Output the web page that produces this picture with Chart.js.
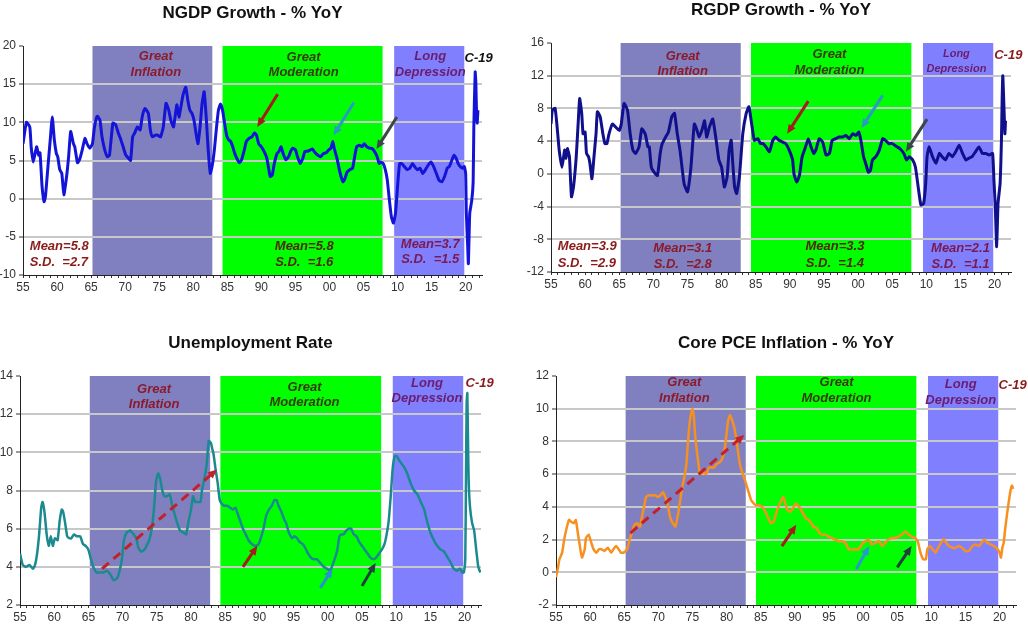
<!DOCTYPE html>
<html lang="en">
<head>
<meta charset="UTF-8">
<title>Great Inflation, Great Moderation, Long Depression</title>
<script src="https://cdn.jsdelivr.net/npm/chart.js"></script>
<style>
  body { margin: 0; background: #fff; overflow: hidden; }
  .panel { position: absolute; }
</style>
</head>
<body>
<div class="panel" style="left:0;top:0;width:514px;height:300px"><canvas id="ngdp"></canvas></div>
<div class="panel" style="left:514px;top:0;width:514px;height:300px"><canvas id="rgdp"></canvas></div>
<div class="panel" style="left:0;top:313px;width:514px;height:313px"><canvas id="unrate"></canvas></div>
<div class="panel" style="left:514px;top:313px;width:514px;height:313px"><canvas id="pce"></canvas></div>

<script>
// eras shared by all four panels (years)
const eraStart = [1965.2, 1984.3, 2009.5];
const eraEnd = [1982.8, 2007.8, 2019.8];
const eraNames = [['Great', 'Inflation'], ['Great', 'Moderation'], ['Long', 'Depression']];

// NGDP growth, % yoy
const ngdpYears = [
  1955.0, 1955.5, 1956.0, 1956.2, 1956.5, 1957.0, 1957.3, 1957.5, 1957.8, 1958.1,
  1958.3, 1958.7, 1959.0, 1959.3, 1959.6, 1959.9, 1960.1, 1960.4, 1960.7, 1961.0,
  1961.4, 1961.7, 1962.0, 1962.4, 1962.6, 1963.0, 1963.3, 1963.7, 1964.1, 1964.4,
  1964.8, 1965.2, 1965.5, 1965.9, 1966.3, 1966.6, 1967.0, 1967.4, 1967.7, 1968.2,
  1968.6, 1969.0, 1969.3, 1969.7, 1970.1, 1970.5, 1970.8, 1971.1, 1971.4, 1971.8,
  1972.2, 1972.5, 1972.9, 1973.4, 1973.7, 1974.0, 1974.4, 1974.8, 1975.2, 1975.6,
  1976.0, 1976.4, 1976.7, 1977.1, 1977.4, 1977.6, 1977.9, 1978.2, 1978.5, 1978.9,
  1979.2, 1979.5, 1979.8, 1980.1, 1980.4, 1980.7, 1981.0, 1981.3, 1981.6, 1981.9,
  1982.1, 1982.3, 1982.5, 1982.8, 1983.1, 1983.4, 1983.7, 1984.0, 1984.3, 1984.6,
  1984.9, 1985.2, 1985.5, 1985.8, 1986.1, 1986.5, 1986.8, 1987.1, 1987.5, 1987.8,
  1988.2, 1988.6, 1989.0, 1989.3, 1989.6, 1990.0, 1990.4, 1990.8, 1991.1, 1991.3,
  1991.6, 1991.9, 1992.3, 1992.6, 1992.9, 1993.2, 1993.6, 1994.0, 1994.3, 1994.6,
  1995.0, 1995.3, 1995.7, 1996.1, 1996.4, 1996.8, 1997.2, 1997.5, 1997.9, 1998.3,
  1998.7, 1999.1, 1999.5, 1999.9, 2000.2, 2000.5, 2000.7, 2001.1, 2001.4, 2001.7,
  2002.0, 2002.3, 2002.6, 2003.0, 2003.4, 2003.7, 2004.0, 2004.4, 2004.8, 2005.1,
  2005.5, 2005.9, 2006.2, 2006.6, 2007.0, 2007.3, 2007.5, 2007.9, 2008.2, 2008.5,
  2008.8, 2009.1, 2009.4, 2009.7, 2010.0, 2010.3, 2010.6, 2011.0, 2011.4, 2011.8,
  2012.2, 2012.5, 2012.9, 2013.3, 2013.7, 2014.1, 2014.5, 2014.9, 2015.3, 2015.7,
  2016.1, 2016.5, 2016.9, 2017.3, 2017.6, 2018.0, 2018.3, 2018.6, 2018.9, 2019.2,
  2019.5, 2019.8, 2020.0, 2020.1, 2020.3, 2020.4, 2020.6, 2020.9, 2021.1, 2021.2,
  2021.4, 2021.5, 2021.6, 2021.7, 2021.8
];
const ngdpValues = [
  7.2, 10.0, 9.4, 6.8, 4.8, 6.8, 5.7, 6.0, 1.6, -0.4,
  0.3, 4.6, 7.7, 10.7, 7.7, 5.9, 5.5, 3.8, 3.3, 0.5,
  2.9, 5.5, 8.8, 7.2, 6.8, 4.7, 5.1, 6.4, 7.9, 7.2,
  6.6, 7.2, 9.4, 10.8, 10.3, 8.1, 6.4, 5.5, 5.7, 9.9,
  9.7, 8.6, 7.9, 6.8, 5.7, 5.3, 5.0, 8.1, 8.6, 9.4,
  9.0, 10.7, 11.8, 11.2, 9.0, 8.1, 8.3, 8.3, 8.1, 9.4,
  12.5, 11.6, 10.3, 9.4, 11.2, 12.3, 10.7, 12.1, 13.6, 14.6,
  12.9, 11.6, 11.2, 10.3, 8.6, 7.2, 9.4, 12.5, 14.0, 10.7,
  7.7, 5.1, 3.3, 4.4, 6.4, 9.2, 11.6, 12.4, 11.6, 9.9,
  8.3, 7.7, 7.5, 6.8, 5.9, 5.1, 4.7, 5.1, 6.4, 7.5,
  7.9, 8.1, 8.6, 8.3, 7.2, 6.8, 6.2, 5.3, 3.8, 2.9,
  3.1, 4.6, 5.9, 6.2, 6.8, 5.9, 5.1, 5.5, 6.2, 6.6,
  6.4, 5.5, 4.6, 5.3, 6.2, 6.2, 6.4, 6.5, 6.0, 5.7,
  5.5, 5.9, 6.0, 6.4, 6.6, 7.5, 6.6, 5.3, 4.0, 2.9,
  2.2, 2.7, 3.5, 3.8, 4.0, 5.5, 6.8, 7.0, 6.8, 7.2,
  6.8, 6.6, 6.6, 6.2, 5.5, 4.6, 4.8, 4.6, 3.8, 2.4,
  -0.2, -2.4, -3.2, -1.9, 1.6, 4.6, 4.6, 4.2, 3.8, 4.0,
  4.6, 4.2, 3.8, 4.0, 3.3, 3.8, 4.4, 4.8, 4.2, 3.3,
  2.4, 2.2, 2.9, 4.0, 4.2, 5.1, 5.7, 5.3, 4.6, 4.2,
  4.0, 4.2, 3.3, -1.9, -6.3, -8.5, -1.9, -0.2, 2.2, 9.4,
  16.6, 15.1, 11.2, 9.9, 11.6
];

// RGDP growth, % yoy
const rgdpYears = [
  1955.0, 1955.2, 1955.6, 1955.9, 1956.2, 1956.6, 1957.0, 1957.2, 1957.4, 1957.7,
  1958.0, 1958.3, 1958.7, 1959.0, 1959.2, 1959.5, 1959.7, 1960.0, 1960.2, 1960.5,
  1960.7, 1961.0, 1961.3, 1961.6, 1961.8, 1962.2, 1962.6, 1962.9, 1963.2, 1963.5,
  1964.0, 1964.5, 1965.0, 1965.3, 1965.7, 1966.2, 1966.6, 1967.0, 1967.4, 1967.9,
  1968.3, 1968.8, 1969.2, 1969.4, 1969.7, 1970.1, 1970.6, 1971.0, 1971.3, 1971.8,
  1972.2, 1972.7, 1973.1, 1973.5, 1973.9, 1974.5, 1975.0, 1975.5, 1976.0, 1976.4,
  1976.7, 1977.1, 1977.5, 1977.8, 1978.2, 1978.7, 1979.2, 1979.6, 1980.0, 1980.4,
  1980.8, 1981.1, 1981.4, 1981.6, 1981.9, 1982.2, 1982.6, 1983.1, 1983.6, 1984.0,
  1984.4, 1984.8, 1985.3, 1985.7, 1986.1, 1986.5, 1987.0, 1987.5, 1987.9, 1988.4,
  1988.9, 1989.4, 1989.9, 1990.4, 1990.6, 1991.0, 1991.4, 1991.8, 1992.3, 1992.7,
  1993.1, 1993.5, 1993.8, 1994.3, 1994.8, 1995.3, 1995.8, 1996.2, 1996.7, 1997.2,
  1997.7, 1998.2, 1998.7, 1999.2, 1999.7, 2000.1, 2000.4, 2000.8, 2001.1, 2001.5,
  2001.8, 2002.1, 2002.6, 2003.1, 2003.6, 2004.0, 2004.5, 2005.0, 2005.7, 2006.1,
  2006.7, 2007.1, 2007.5, 2008.0, 2008.4, 2008.8, 2009.2, 2009.6, 2009.9, 2010.1,
  2010.4, 2010.9, 2011.4, 2011.9, 2012.3, 2012.8, 2013.3, 2013.8, 2014.3, 2014.8,
  2015.3, 2015.8, 2016.2, 2016.7, 2017.2, 2017.7, 2018.2, 2018.7, 2019.2, 2019.7,
  2019.9, 2020.1, 2020.3, 2020.5, 2020.8, 2021.0, 2021.1, 2021.2, 2021.4, 2021.5,
  2021.6
];
const rgdpValues = [
  6.1, 7.8, 8.0, 5.7, 2.9, 0.8, 2.9, 1.9, 3.1, 2.1,
  -2.8, -1.6, 2.1, 6.5, 9.2, 7.4, 4.9, 5.1, 2.5, 2.1,
  1.3, -0.6, 2.1, 4.9, 7.6, 7.0, 4.9, 3.7, 3.7, 4.9,
  6.1, 5.7, 5.3, 6.1, 8.6, 7.8, 4.9, 2.9, 2.5, 3.3,
  5.5, 4.9, 3.3, 3.3, 0.8, 0.2, -0.2, 2.5, 3.7, 4.5,
  5.1, 7.0, 7.4, 4.9, 2.9, -1.2, -2.2, 0.8, 6.1, 5.3,
  4.5, 5.3, 6.5, 4.5, 5.7, 6.7, 4.1, 1.7, 0.8, -1.6,
  -0.4, 2.9, 4.1, 1.7, -1.6, -2.4, -0.4, 4.9, 7.4, 8.2,
  6.1, 4.1, 4.3, 3.7, 3.7, 3.3, 2.7, 4.1, 4.5, 4.1,
  3.9, 3.7, 2.9, 1.7, 0.0, -1.0, -0.2, 2.1, 3.3, 4.3,
  3.3, 2.5, 2.9, 4.3, 3.9, 2.3, 2.5, 4.1, 4.3, 4.5,
  4.5, 4.7, 4.3, 4.9, 4.7, 5.1, 4.1, 2.1, 1.3, 0.2,
  0.4, 1.7, 2.1, 2.9, 4.3, 4.1, 3.7, 3.7, 3.3, 3.1,
  2.5, 1.7, 2.1, 1.7, 0.8, -1.6, -3.8, -3.6, -1.2, 2.1,
  3.3, 2.1, 1.3, 2.5, 2.1, 1.7, 2.5, 2.1, 2.7, 3.5,
  2.5, 1.7, 1.9, 2.1, 2.7, 3.3, 2.5, 2.5, 2.3, 2.5,
  -0.8, -4.0, -8.9, -3.6, -1.2, 4.1, 9.0, 12.0, 7.4, 4.9,
  6.5
];

// unemployment rate, %
const unrateYears = [
  1955.0, 1955.4, 1955.9, 1956.4, 1956.9, 1957.2, 1957.5, 1957.8, 1958.1, 1958.3,
  1958.6, 1958.9, 1959.2, 1959.5, 1959.8, 1960.1, 1960.5, 1960.8, 1961.1, 1961.3,
  1961.6, 1961.9, 1962.2, 1962.5, 1962.9, 1963.3, 1963.8, 1964.2, 1964.6, 1965.0,
  1965.3, 1965.7, 1966.2, 1966.7, 1967.2, 1967.7, 1968.2, 1968.7, 1969.2, 1969.5,
  1969.9, 1970.2, 1970.6, 1971.1, 1971.6, 1972.0, 1972.3, 1972.7, 1973.2, 1973.5,
  1973.9, 1974.3, 1974.6, 1974.9, 1975.2, 1975.5, 1975.8, 1976.1, 1976.5, 1976.9,
  1977.2, 1977.5, 1977.9, 1978.4, 1978.9, 1979.3, 1979.6, 1980.0, 1980.3, 1980.6,
  1980.9, 1981.4, 1981.6, 1982.0, 1982.3, 1982.6, 1982.9, 1983.1, 1983.3, 1983.6,
  1983.9, 1984.2, 1984.5, 1984.9, 1985.3, 1985.7, 1986.1, 1986.5, 1986.8, 1987.2,
  1987.6, 1988.0, 1988.4, 1988.9, 1989.4, 1989.9, 1990.2, 1990.6, 1991.0, 1991.4,
  1991.8, 1992.2, 1992.5, 1992.8, 1993.2, 1993.6, 1993.9, 1994.3, 1994.8, 1995.1,
  1995.5, 1995.9, 1996.3, 1996.7, 1997.1, 1997.5, 1997.9, 1998.4, 1998.9, 1999.4,
  1999.9, 2000.3, 2000.6, 2001.0, 2001.4, 2001.7, 2002.0, 2002.3, 2002.7, 2003.1,
  2003.4, 2003.8, 2004.2, 2004.6, 2005.0, 2005.4, 2005.8, 2006.2, 2006.7, 2007.1,
  2007.5, 2007.9, 2008.3, 2008.6, 2008.9, 2009.2, 2009.5, 2009.8, 2010.1, 2010.4,
  2010.8, 2011.2, 2011.6, 2012.1, 2012.6, 2013.1, 2013.6, 2014.1, 2014.5, 2015.0,
  2015.5, 2016.0, 2016.5, 2017.0, 2017.5, 2018.0, 2018.4, 2018.9, 2019.3, 2019.7,
  2019.9, 2020.1, 2020.2, 2020.3, 2020.4, 2020.5, 2020.6, 2020.8, 2021.1, 2021.4,
  2021.7, 2022.0, 2022.3
];
const unrateValues = [
  4.7, 4.1, 4.0, 4.1, 3.9, 4.1, 4.7, 5.7, 7.1, 7.4,
  6.8, 5.7, 5.1, 5.6, 5.1, 5.5, 5.4, 6.4, 7.0, 6.9,
  6.3, 5.6, 5.5, 5.5, 5.7, 5.6, 5.6, 5.2, 5.1, 4.9,
  4.5, 4.0, 3.7, 3.7, 3.7, 3.8, 3.6, 3.3, 3.4, 3.7,
  4.4, 5.4, 5.8, 5.9, 5.7, 5.5, 5.0, 4.8, 4.9, 5.1,
  5.4, 6.1, 7.1, 8.5, 8.9, 8.6, 8.0, 7.7, 7.7, 7.8,
  7.3, 6.9, 6.4, 5.9, 5.8, 5.7, 6.3, 7.0, 7.7, 7.4,
  7.4, 7.4, 8.0, 8.7, 9.4, 10.6, 10.5, 10.2, 9.9, 9.1,
  8.4, 7.5, 7.3, 7.2, 7.2, 7.1, 7.0, 7.1, 6.8, 6.4,
  6.0, 5.7, 5.4, 5.2, 5.1, 5.2, 5.5, 6.0, 6.7, 7.0,
  7.2, 7.5, 7.5, 7.2, 6.9, 6.5, 6.3, 5.8, 5.5, 5.6,
  5.5, 5.3, 5.2, 5.0, 4.7, 4.5, 4.4, 4.4, 4.2, 4.0,
  3.9, 3.8, 4.0, 4.4, 4.9, 5.6, 5.7, 5.7, 5.9, 6.0,
  6.0, 5.7, 5.6, 5.3, 5.1, 4.9, 4.7, 4.5, 4.4, 4.5,
  4.7, 4.9, 5.2, 5.7, 6.4, 7.7, 9.2, 9.8, 9.8, 9.6,
  9.4, 9.2, 8.9, 8.4, 8.0, 7.8, 7.4, 7.0, 6.4, 5.8,
  5.4, 5.1, 4.9, 4.8, 4.5, 4.2, 3.9, 3.8, 3.9, 3.7,
  3.7, 4.4, 8.5, 12.6, 13.1, 10.6, 8.5, 7.1, 6.3, 5.9,
  4.9, 4.0, 3.7
];

// core PCE inflation, % yoy
const pceYears = [
  1955.0, 1955.3, 1955.5, 1955.9, 1956.2, 1956.5, 1956.9, 1957.2, 1957.6, 1957.9,
  1958.2, 1958.5, 1958.8, 1959.2, 1959.4, 1959.8, 1960.1, 1960.5, 1960.9, 1961.3,
  1961.7, 1962.1, 1962.6, 1963.1, 1963.4, 1963.8, 1964.2, 1964.5, 1964.9, 1965.4,
  1965.8, 1966.1, 1966.5, 1966.9, 1967.3, 1967.6, 1967.9, 1968.2, 1968.6, 1969.1,
  1969.6, 1969.9, 1970.3, 1970.7, 1971.0, 1971.4, 1971.7, 1972.1, 1972.5, 1972.9,
  1973.2, 1973.5, 1973.8, 1974.1, 1974.4, 1974.7, 1975.0, 1975.2, 1975.4, 1975.8,
  1976.1, 1976.6, 1977.0, 1977.4, 1977.8, 1978.1, 1978.5, 1978.9, 1979.3, 1979.7,
  1980.0, 1980.2, 1980.5, 1980.8, 1981.1, 1981.4, 1981.7, 1982.0, 1982.3, 1982.7,
  1983.0, 1983.3, 1983.6, 1984.0, 1984.3, 1984.7, 1985.2, 1985.7, 1986.1, 1986.5,
  1986.9, 1987.4, 1987.9, 1988.3, 1988.6, 1988.9, 1989.3, 1989.7, 1990.1, 1990.4,
  1990.8, 1991.2, 1991.6, 1992.0, 1992.4, 1992.7, 1993.2, 1993.6, 1994.0, 1994.5,
  1994.9, 1995.4, 1995.9, 1996.4, 1996.9, 1997.4, 1997.9, 1998.4, 1998.8, 1999.3,
  1999.8, 2000.3, 2000.8, 2001.3, 2001.8, 2002.3, 2002.8, 2003.2, 2003.7, 2004.2,
  2004.7, 2005.2, 2005.7, 2006.2, 2006.7, 2007.1, 2007.6, 2008.0, 2008.4, 2008.8,
  2009.2, 2009.4, 2009.8, 2010.2, 2010.6, 2011.0, 2011.4, 2011.8, 2012.2, 2012.6,
  2013.1, 2013.5, 2014.0, 2014.5, 2015.0, 2015.5, 2016.0, 2016.5, 2017.0, 2017.5,
  2017.8, 2018.2, 2018.7, 2019.2, 2019.7, 2020.0, 2020.2, 2020.4, 2020.6, 2020.8,
  2021.1, 2021.3, 2021.6, 2021.8, 2022.0
];
const pceValues = [
  -0.3, 0.3, 0.8, 1.2, 2.0, 2.6, 3.2, 3.1, 3.0, 3.2,
  2.4, 1.6, 0.9, 1.4, 2.1, 2.3, 1.9, 1.4, 1.2, 1.4,
  1.4, 1.3, 1.5, 1.2, 1.4, 1.6, 1.4, 1.2, 1.2, 1.4,
  2.0, 2.4, 2.9, 3.0, 2.8, 3.4, 4.0, 4.6, 4.7, 4.7,
  4.7, 4.6, 4.7, 4.9, 4.6, 4.1, 3.4, 3.0, 2.8, 3.6,
  4.4, 5.2, 5.8, 6.6, 8.3, 9.5, 10.0, 9.5, 8.3, 6.9,
  6.0, 6.1, 6.0, 6.4, 6.4, 6.4, 6.6, 6.7, 6.9, 7.5,
  8.5, 9.2, 9.6, 9.3, 8.9, 8.2, 7.3, 6.5, 6.1, 5.6,
  5.2, 4.8, 4.4, 4.2, 4.1, 4.1, 4.0, 3.7, 3.3, 3.0,
  3.1, 3.8, 4.3, 4.6, 4.2, 3.8, 3.7, 3.9, 4.2, 4.1,
  3.9, 3.6, 3.3, 3.2, 3.0, 2.8, 2.7, 2.4, 2.3, 2.3,
  2.2, 2.1, 2.0, 1.9, 1.9, 1.8, 1.4, 1.4, 1.4, 1.4,
  1.7, 1.9, 2.0, 1.7, 1.8, 1.9, 1.6, 1.8, 2.0, 2.1,
  2.1, 2.2, 2.3, 2.5, 2.3, 2.2, 2.1, 1.9, 1.2, 0.8,
  0.8, 1.4, 1.6, 1.4, 1.2, 1.5, 1.8, 2.0, 1.8, 1.6,
  1.5, 1.5, 1.6, 1.5, 1.3, 1.3, 1.6, 1.7, 1.6, 1.9,
  2.0, 1.8, 1.7, 1.6, 1.4, 1.2, 0.9, 1.5, 1.8, 2.6,
  3.6, 4.2, 5.0, 5.3, 5.1
];

// annotations, in axis units: era label [year, line1 y, line2 y], C-19 [year, y]
const ngdpEraLabels = [[1974.5, 18.6, 16.6], [1996.2, 18.5, 16.5], [2014.8, 18.6, 16.6]];
const rgdpEraLabels = [[1974.3, 14.4, 12.5], [1995.8, 14.6, 12.7], [2014.4, 14.7, 12.8]];
const unrateEraLabels = [[1974.6, 13.3, 12.5], [1996.6, 13.4, 12.6], [2014.5, 13.6, 12.8]];
const pceEraLabels = [[1973.8, 11.6, 10.6], [1996.1, 11.6, 10.6], [2014.3, 11.5, 10.5]];
const covidLabels = [[2021.9, 18.4], [2022.0, 14.5], [2022.2, 13.6], [2021.9, 11.4]];

// arrows [fromYear, fromY, toYear, toY]
const ngdpArrows = [[1992.4, 13.7, 1989.4, 9.4], [2003.6, 12.6, 2000.6, 8.3], [2009.9, 10.7, 2006.9, 6.5]];
const rgdpArrows = [[1992.7, 8.9, 1989.6, 4.9], [2003.6, 9.6, 2000.5, 5.6], [2010.1, 6.7, 2007.0, 2.7]];
const unrateArrows = [[1967.0, 3.9, 1983.8, 9.1], [1987.6, 4.0, 1989.7, 5.1], [1998.9, 2.9, 2000.7, 3.9], [2005.0, 3.0, 2007.0, 4.2]];
const pceArrows = [[1965.9, 2.4, 1982.6, 8.4], [1988.1, 1.6, 1990.2, 2.9], [1999.0, 0.2, 2000.9, 1.6], [2005.0, 0.3, 2007.1, 1.6]];

// mean / s.d. boxes: [year, line1 y, line2 y, era slot 0=pre 1=GI 2=GM 3=LD]
const ngdpStatAt = [[1956.0, -6.3, -8.3, 0], [1996.3, -6.3, -8.3, 2], [2014.8, -6.0, -7.9, 3]];
const ngdpStatText = [['Mean=5.8', 'S.D.  =2.7'], ['Mean=5.8', 'S.D.  =1.6'], ['Mean=3.7', 'S.D.  =1.5']];
const rgdpStatAt = [[1956.0, -8.9, -10.9, 0], [1974.3, -9.1, -11.1, 1], [1996.6, -8.9, -10.9, 2], [2015.0, -9.1, -11.1, 3]];
const rgdpStatText = [['Mean=3.9', 'S.D.  =2.9'], ['Mean=3.1', 'S.D.  =2.8'], ['Mean=3.3', 'S.D.  =1.4'], ['Mean=2.1', 'S.D.  =1.1']];

const FONT = '"Liberation Sans", Arial, sans-serif';
Chart.defaults.font.family = FONT;
Chart.defaults.color = '#333';

const eraFill = ['#8080c0', '#00ff00', '#8080ff'];
const eraInk = ['#8b1a2a', '#3a3a0c', '#6c1c6c'];
const statInk = ['#8b1a1a', '#8b1a2a', '#55250c', '#7a1a50'];

function arrow(ctx, x, y, a, color, dashed) {
  const x1 = x.getPixelForValue(a[0]), y1 = y.getPixelForValue(a[1]);
  const x2 = x.getPixelForValue(a[2]), y2 = y.getPixelForValue(a[3]);
  const ang = Math.atan2(y2 - y1, x2 - x1), head = 10;
  ctx.save();
  ctx.strokeStyle = color;
  ctx.fillStyle = color;
  ctx.lineWidth = 3;
  ctx.setLineDash(dashed ? [9, 6] : []);
  ctx.beginPath();
  ctx.moveTo(x1, y1);
  ctx.lineTo(x2 - head * 0.7 * Math.cos(ang), y2 - head * 0.7 * Math.sin(ang));
  ctx.stroke();
  ctx.setLineDash([]);
  ctx.beginPath();
  ctx.moveTo(x2, y2);
  ctx.lineTo(x2 - head * Math.cos(ang - 0.42), y2 - head * Math.sin(ang - 0.42));
  ctx.lineTo(x2 - head * Math.cos(ang + 0.42), y2 - head * Math.sin(ang + 0.42));
  ctx.closePath();
  ctx.fill();
  ctx.restore();
}

function overlayFor(p) {
  return {
    id: 'overlay',
    beforeDraw(chart) {
      const { ctx, chartArea: a, scales: { x } } = chart;
      ctx.save();
      eraStart.forEach((s, i) => {
        const x0 = x.getPixelForValue(s), x1 = x.getPixelForValue(eraEnd[i]);
        ctx.fillStyle = eraFill[i];
        ctx.fillRect(x0, a.top, x1 - x0, a.bottom - a.top);
      });
      ctx.restore();
    },
    afterDatasetsDraw(chart) {
      const { ctx, chartArea: a, scales: { x, y } } = chart;
      ctx.save();
      ctx.textBaseline = 'middle';
      // era names
      p.eraLabels.forEach((l, i) => {
        const sz = (p.smallLD && i === 2) ? 11 : 13;
        ctx.font = 'italic bold ' + sz + 'px ' + FONT;
        ctx.fillStyle = eraInk[i];
        ctx.textAlign = 'center';
        ctx.fillText(eraNames[i][0], x.getPixelForValue(l[0]), y.getPixelForValue(l[1]));
        ctx.fillText(eraNames[i][1], x.getPixelForValue(l[0]), y.getPixelForValue(l[2]));
      });
      // C-19
      ctx.font = 'italic bold 13px ' + FONT;
      ctx.fillStyle = p.covidInk;
      ctx.fillText('C-19', x.getPixelForValue(p.covid[0]), y.getPixelForValue(p.covid[1]));
      // mean / s.d.
      (p.statAt || []).forEach((s, i) => {
        ctx.font = 'italic bold 13px ' + FONT;
        ctx.fillStyle = statInk[s[3]];
        ctx.textAlign = s[3] === 0 ? 'left' : 'center';
        ctx.fillText(p.statText[i][0], x.getPixelForValue(s[0]), y.getPixelForValue(s[1]));
        ctx.fillText(p.statText[i][1], x.getPixelForValue(s[0]), y.getPixelForValue(s[2]));
      });
      ctx.restore();
      p.arrows.forEach((ar, i) => arrow(ctx, x, y, ar, p.arrowInk[i], p.dashedFirst && i === 0));
    },
    afterDraw(chart) {
      const { ctx, chartArea: a } = chart;
      ctx.save();
      ctx.font = 'bold 17px ' + FONT;
      ctx.fillStyle = '#111';
      ctx.textAlign = 'center';
      ctx.textBaseline = 'middle';
      ctx.fillText(p.title, (a.left + a.right) / 2, p.titleY);
      ctx.restore();
    }
  };
}

function makePanel(id, p) {
  return new Chart(document.getElementById(id), {
    type: 'line',
    data: {
      datasets: [{
        data: p.years.map((yr, i) => ({ x: yr, y: p.values[i] })),
        borderColor: p.color,
        borderWidth: p.width,
        pointRadius: 0,
        tension: 0.15,
        fill: false
      }]
    },
    options: {
      responsive: true,
      maintainAspectRatio: false,
      animation: false,
      events: [],
      layout: { padding: p.pad },
      plugins: { legend: { display: false }, tooltip: { enabled: false }, title: { display: false } },
      scales: {
        x: {
          type: 'linear',
          min: 1955,
          max: 2022.4,
          afterFit: s => { s.height = p.xH; },
          border: { color: '#222', width: 1 },
          grid: { drawOnChartArea: false, tickLength: 3, tickColor: '#333' },
          ticks: {
            stepSize: 1,
            autoSkip: false,
            maxRotation: 0,
            includeBounds: false,
            padding: 2,
            font: { size: 12 },
            callback: v => v % 5 === 0 ? String(v % 100).padStart(2, '0') : ''
          }
        },
        y: {
          min: p.yMin,
          max: p.yMax,
          afterFit: s => { s.width = p.yW; },
          border: { color: '#222', width: 1 },
          grid: {
            lineWidth: 2,
            color: c => (c.tick && (c.tick.value === p.yMax || c.tick.value === p.yMin)) ? 'rgba(0,0,0,0)' : '#c8c8c8',
            tickLength: 4,
            tickColor: '#333',
            tickWidth: 1
          },
          ticks: { stepSize: p.yStep, padding: 3, font: { size: 12 } }
        }
      }
    },
    plugins: [overlayFor(p)]
  });
}

makePanel('ngdp', {
  title: 'NGDP Growth - % YoY', titleY: 13,
  years: ngdpYears, values: ngdpValues, color: '#1414d8', width: 3,
  yMin: -10, yMax: 20, yStep: 5,
  pad: { top: 46, right: 32, left: 0, bottom: 0 }, yW: 23, xH: 25,
  eraLabels: ngdpEraLabels, covid: covidLabels[0], covidInk: '#111',
  arrows: ngdpArrows, arrowInk: ['#a41c1c', '#2a9cc0', '#3c4848'],
  statAt: ngdpStatAt, statText: ngdpStatText
});

makePanel('rgdp', {
  title: 'RGDP Growth - % YoY', titleY: 10,
  years: rgdpYears, values: rgdpValues, color: '#10108c', width: 3,
  yMin: -12, yMax: 16, yStep: 4,
  pad: { top: 43, right: 17, left: 0, bottom: 0 }, yW: 37, xH: 28,
  eraLabels: rgdpEraLabels, smallLD: true, covid: covidLabels[1], covidInk: '#8b1a1a',
  arrows: rgdpArrows, arrowInk: ['#a41c1c', '#2a9cc0', '#3c4848'],
  statAt: rgdpStatAt, statText: rgdpStatText
});

makePanel('unrate', {
  title: 'Unemployment Rate', titleY: 30,
  years: unrateYears, values: unrateValues, color: '#1a8a8f', width: 2.5,
  yMin: 2, yMax: 14, yStep: 2,
  pad: { top: 63, right: 33, left: 0, bottom: 0 }, yW: 20, xH: 21,
  eraLabels: unrateEraLabels, covid: covidLabels[2], covidInk: '#8b1a1a',
  arrows: unrateArrows, arrowInk: ['#c4202a', '#a41c1c', '#2a90d0', '#24403c'], dashedFirst: true
});

makePanel('pce', {
  title: 'Core PCE Inflation - % YoY', titleY: 30,
  years: pceYears, values: pceValues, color: '#f7901e', width: 2.5,
  yMin: -2, yMax: 12, yStep: 2,
  pad: { top: 63, right: 12, left: 0, bottom: 0 }, yW: 42, xH: 21,
  eraLabels: pceEraLabels, covid: covidLabels[3], covidInk: '#8b1a1a',
  arrows: pceArrows, arrowInk: ['#c4202a', '#a41c1c', '#2a98d0', '#24403c'], dashedFirst: true
});
</script>
</body>
</html>
